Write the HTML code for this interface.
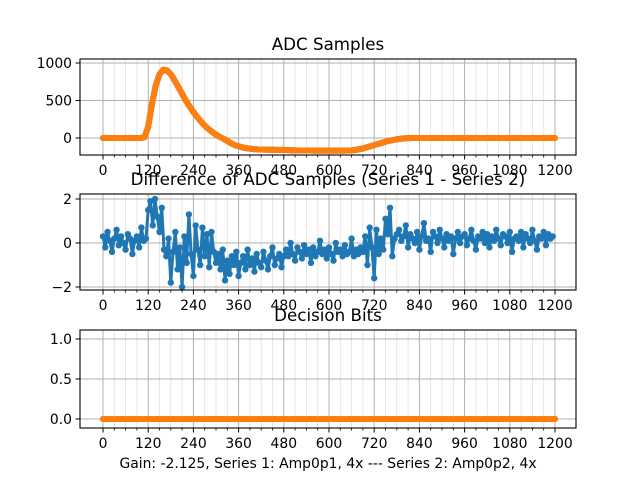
<!DOCTYPE html>
<html><head><meta charset="utf-8"><style>
body{margin:0;background:#fff}
svg{display:block;font-family:"DejaVu Sans","Liberation Sans",sans-serif}
</style></head><body>
<svg id="fig" width="640" height="480"></svg>
<script>
const xTicks=[0,120,240,360,480,600,720,840,960,1080,1200];
const adcT=[0,10,20,30,40,50,60,70,80,90,100,110,120,130,140,150,160,170,180,190,200,210,220,230,240,250,260,270,280,290,300,310,320,330,340,350,360,370,380,390,400,410,420,430,440,450,460,470,480,490,500,510,520,530,540,550,560,570,580,590,600,610,620,630,640,650,660,670,680,690,700,710,720,730,740,750,760,770,780,790,800,810,820,830,840,850,860,870,880,890,900,910,920,930,940,950,960,970,980,990,1000,1010,1020,1030,1040,1050,1060,1070,1080,1090,1100,1110,1120,1130,1140,1150,1160,1170,1180,1190,1200];
const adcVals=[0,0,0,0,0,0,0,0,0,0,0,10,150,450,700,850,910,900,850,770,680,590,500,420,345,280,220,165,120,80,45,15,-10,-40,-70,-95,-110,-125,-135,-142,-148,-152,-154,-155,-156,-157,-158,-158,-159,-162,-164,-165,-166,-166,-167,-167,-168,-168,-168,-168,-168,-168,-168,-168,-168,-167,-165,-160,-150,-140,-125,-110,-95,-80,-65,-50,-38,-28,-18,-10,-5,-2,0,0,0,0,0,0,0,0,0,0,0,0,0,0,0,0,0,0,0,0,0,0,0,0,0,0,0,0,0,0,0,0,0,0,0,0,0,0,0];
const diffVals=[0.3,-0.2,0.5,0.1,-0.4,0.2,0.6,-0.1,0.3,0.0,-0.3,0.4,0.2,-0.5,0.1,0.3,-0.2,0.7,0.1,
0.2,1.5,1.9,0.8,2.0,1.2,0.5,1.6,-0.3,
-0.6,0.2,-1.8,-0.4,0.5,-1.2,-0.2,-2.0,0.3,-0.9,1.3,-0.5,-1.5,0.8,-0.3,-1.0,0.7,-0.6,0.4,-1.1,0.5,-0.4,-0.9,
-0.5,-1.2,-0.3,-1.7,-0.8,-1.4,-0.6,-1.0,-0.4,-1.5,-0.9,-0.6,-1.2,-0.3,-1.0,-0.7,-1.3,-0.5,-0.9,-1.1,-0.4,-0.8,-1.2,-0.6,-0.2,-1.0,-0.7,-0.5,-1.1,-0.6,
-0.3,-0.6,0.0,-0.5,-0.8,-0.2,-0.4,-0.7,-0.1,-0.5,-0.3,-0.9,-0.2,-0.6,-0.4,0.1,-0.5,-0.3,-0.7,-0.2,-0.5,-0.8,0.0,-0.4,-0.3,-0.6,-0.1,-0.5,-0.4,0.2,-0.6,-0.3,-0.5,-0.2,-0.4,
0.3,-1.0,0.7,-0.2,-1.6,0.6,-0.5,0.2,-0.3,1.1,0.4,1.6,-0.6,0.2,0.4,
0.6,0.1,0.3,0.8,-0.2,0.4,0.2,0.0,0.5,-0.3,0.3,0.9,0.1,0.2,-0.4,0.5,0.3,0.0,0.6,0.2,-0.2,0.4,0.1,0.3,-0.5,0.2,0.5,0.0,0.3,0.4,-0.1,0.2,0.6,0.1,-0.3,0.3,0.2,0.5,0.0,0.4,-0.2,0.3,0.1,0.6,0.2,-0.1,0.4,0.3,0.0,0.5,-0.4,0.2,0.3,0.1,0.5,-0.2,0.4,0.2,0.0,0.6,0.1,-0.3,0.3,0.2,0.5,-0.1,0.4,0.2,0.3];
const bitT=[0,60,120,180,240,300,360,420,480,540,600,660,720,780,840,900,960,1020,1080,1140,1200];
const bitVals=[0,0,0,0,0,0,0,0,0,0,0,0,0,0,0,0,0,0,0,0,0];
const y1Ticks=[0,500,1000], y2Ticks=[-2,0,2], y3Ticks=[0.0,0.5,1.0];

const NS="http://www.w3.org/2000/svg", svg=document.getElementById('fig');
function mk(tag,attrs,parent,text){const e=document.createElementNS(NS,tag);for(const k in attrs)e.setAttribute(k,attrs[k]);if(text!==undefined)e.textContent=text;(parent||svg).appendChild(e);return e;}
const L=80,R=576;
const xs=t=>103+t*(555-103)/1200;
function axes(name,top,bot,ymap,yticks,fmt,title){
  const g=mk('g',{});
  
  
  for(let t=0;t<=1200;t+=30){if(t%120===0)continue;const x=xs(t);
    mk('line',{x1:x,x2:x,y1:top,y2:bot,stroke:'#e0e0e0','stroke-width':0.8},g);
    mk('line',{x1:x,x2:x,y1:bot,y2:bot+2.5,stroke:'#000','stroke-width':0.8},g);}
  xTicks.forEach(t=>{const x=xs(t);
    mk('line',{x1:x,x2:x,y1:top,y2:bot,stroke:'#b0b0b0','stroke-width':1},g);
    mk('line',{x1:x,x2:x,y1:bot,y2:bot+4.5,stroke:'#000','stroke-width':1},g);
    const tl=mk('text',{x:x,y:bot+20,'text-anchor':'middle','font-size':13.9},g,String(t));
    });
  yticks.forEach(v=>{const y=ymap(v);
    mk('line',{x1:L,x2:R,y1:y,y2:y,stroke:'#b0b0b0','stroke-width':1},g);
    mk('line',{x1:L-4.5,x2:L,y1:y,y2:y,stroke:'#000','stroke-width':1},g);
    const tl=mk('text',{x:L-8,y:y+5,'text-anchor':'end','font-size':13.9},g,fmt(v));
    });
  const tt=mk('text',{x:(L+R)/2,y:top-9,'text-anchor':'middle','font-size':16.7},svg,title);
  
  return g;
}
function frame(top,bot){mk('rect',{x:L,y:top,width:R-L,height:bot-top,fill:'none',stroke:'#000','stroke-width':1.1});}
function series(ts,vals,ymap,color,name,sw,r){
  const g=mk('g',{});
  
  
  const pts=vals.map((v,i)=>xs(ts(i))+','+ymap(v)).join(' ');
  mk('polyline',{points:pts,fill:'none',stroke:color,'stroke-width':sw,'stroke-linejoin':'round','stroke-linecap':'round'},g);
  vals.forEach((v,i)=>{const c=mk('circle',{cx:xs(ts(i)),cy:ymap(v),r:r,fill:color},g);
    });
}
// subplot 1
const y1=v=>138-v*0.075;
axes('adc-samples-axes',59,155,y1,y1Ticks,v=>String(v),'ADC Samples');
series(i=>adcT[i],adcVals,y1,'#1f77b4','series-1',6,3);
series(i=>adcT[i],adcVals,y1,'#ff7f0e','series-2',6,3);
frame(59,155);
// subplot 2
const y2=v=>243-v*22;
axes('difference-axes',194,290,y2,y2Ticks,v=>v<0?'\u2212'+(-v):String(v),'Difference of ADC Samples (Series 1 - Series 2)');
series(i=>i*6,diffVals,y2,'#1f77b4','difference-series',3,3.2);
frame(194,290);
// subplot 3
const y3=v=>419-v*80;
axes('decision-bits-axes',330,428,y3,y3Ticks,v=>v.toFixed(1),'Decision Bits');
series(i=>bitT[i],bitVals,y3,'#1f77b4','bits-series-1',6,3);
series(i=>bitT[i],bitVals,y3,'#ff7f0e','bits-series-2',6,3);
frame(330,428);
const xl=mk('text',{x:(L+R)/2,y:468,'text-anchor':'middle','font-size':13.9},svg,'Gain: -2.125, Series 1: Amp0p1, 4x --- Series 2: Amp0p2, 4x');


</script>
</body></html>
